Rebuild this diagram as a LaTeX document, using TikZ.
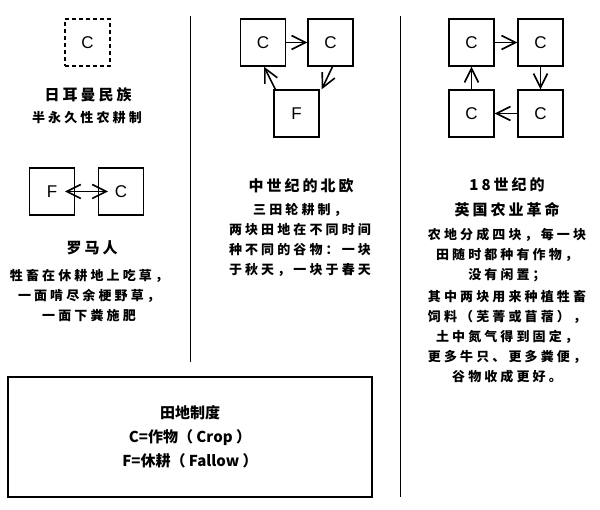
\documentclass[tikz,border=0pt]{standalone}
\usepackage{fontspec}
\setmainfont{Noto Sans CJK SC}
\newfontfamily\cjkt[LetterSpace=20]{Noto Sans CJK SC}
\newfontfamily\cjkb[LetterSpace=24]{Noto Sans CJK SC}
\newfontfamily\latn{Liberation Sans}
\usetikzlibrary{arrows.meta}
\tikzset{barb/.tip={Straight Barb[length=14pt,width=14pt,line width=1.6pt]}}
\begin{document}
\begin{tikzpicture}[x=1pt,y=-1pt,
  box/.style={draw,line width=1.4pt,minimum width=45pt,minimum height=47pt,inner sep=0pt,font=\latn\fontsize{17}{17}\selectfont},
  arr/.style={line width=1.6pt,-barb},
  ttl/.style={align=center,inner sep=0pt,font=\cjkt\bfseries\fontsize{15}{25}\selectfont},
  bdy/.style={align=center,inner sep=0pt,font=\cjkb\bfseries\fontsize{13}{20}\selectfont},
  divider/.style={line width=1pt}]
\useasboundingbox (0,0) rectangle (600,510);
% dividers
\draw[divider] (190,16) -- (190,362);
\draw[divider] (400,16) -- (400,497);
% Germanic
\node[box,dashed,dash pattern=on 4pt off 3pt,line width=1.7pt] (g) at (87.5,42.5) {C};
\node[ttl] (gt) at (88,95) {日耳曼民族};
\node[bdy] (gs) at (87,118) {半永久性农耕制};
% Romans
\node[box] (rf) at (52,191.5) {F};
\node[box] (rc) at (121,191.5) {C};
\draw[line width=1.6pt,barb-barb] ([xshift=13pt]rf.center) -- ([xshift=-13pt]rc.center);
\node[ttl] (rt) at (92,248) {罗马人};
\node[bdy] (rb) at (89,296) {牲畜在休耕地上吃草，\\一面啃尽余梗野草，\\一面下粪施肥};
% Medieval
\node[box] (m1) at (263,42.5) {C};
\node[box] (m2) at (330.5,42.5) {C};
\node[box] (mf) at (296.5,113.5) {F};
\draw[arr] (m1.east) -- (m2.west);
\draw[arr] ([xshift=2pt]m2.south) -- ([xshift=2pt]mf.north east);
\draw[arr] ([xshift=2pt]mf.north west) -- ([xshift=1pt]m1.south);
\node[ttl] (mt) at (301,186) {中世纪的北欧};
\node[bdy] (mb) at (300,240) {三田轮耕制，\\两块田地在不同时间\\种不同的谷物：一块\\于秋天，一块于春天};
% 18th century
\node[box] (e1) at (471.5,42.5) {C};
\node[box] (e2) at (540.5,42.5) {C};
\node[box] (e3) at (540.5,113.5) {C};
\node[box] (e4) at (471.5,113.5) {C};
\draw[arr] (e1.east) -- (e2.west);
\draw[arr] (e2.south) -- (e3.north);
\draw[arr] (e3.west) -- (e4.east);
\draw[arr] (e4.north) -- (e1.south);
\node[ttl] (et) at (507,197.5) {18世纪的\\英国农业革命};
\node[bdy] (eb) at (507,305.5) {农地分成四块，每一块\\田随时都种有作物，\\没有闲置；\\[2pt]其中两块用来种植牲畜\\饲料（芜菁或苜蓿），\\土中氮气得到固定，\\更多牛只、更多粪便，\\谷物收成更好。};
% legend
\node[draw,line width=1.3pt,minimum width=364pt,minimum height=120pt,inner sep=0pt] (lg) at (190,437) {};
\node[align=center,inner sep=0pt,font=\bfseries\fontsize{15}{24}\selectfont] (lt) at (lg.center) {田地制度\\C=作物（ Crop ）\\F=休耕（ Fallow ）};
\end{tikzpicture}
\end{document}
